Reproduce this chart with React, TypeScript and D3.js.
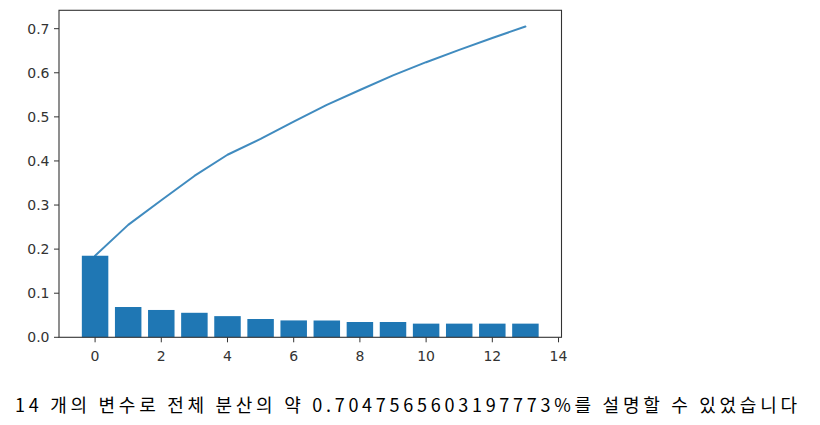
import React from "react";
import * as d3 from "d3";

const components = [0, 1, 2, 3, 4, 5, 6, 7, 8, 9, 10, 11, 12, 13];
const explainedRatio = [0.185, 0.0687, 0.062, 0.0556, 0.048, 0.0415, 0.0383, 0.0381, 0.0347, 0.0347, 0.031, 0.031, 0.031, 0.031];
const cumulativeRatio = [0.185, 0.255, 0.311, 0.366, 0.414, 0.45, 0.489, 0.527, 0.561, 0.594, 0.624, 0.652, 0.679, 0.7048];
const xTicks = [0, 2, 4, 6, 8, 10, 12, 14];
const yTicks = [0.0, 0.1, 0.2, 0.3, 0.4, 0.5, 0.6, 0.7];
const caption = "14 개의 변수로 전체 분산의 약 0.7047565603197773%를 설명할 수 있었습니다";

export default function App() {
  const W = 820, H = 425;
  const left = 59, right = 561.5, top = 10.3, bottom = 337.3;
  const x = d3.scaleLinear().domain([-1.09, 14.09]).range([left, right]);
  const y = d3.scaleLinear().domain([0, 0.7417]).range([bottom, top]);
  const barW = x(0.8) - x(0);
  const line = d3
    .line<number>()
    .x((_, i) => x(components[i]))
    .y((d) => y(d));
  const tickColor = "#333";
  const font = "DejaVu Sans, sans-serif";
  return (
    <svg
      width={W}
      height={H}
      style={{ position: "absolute", left: 0, top: 0, background: "#fff" }}
    >
      <rect x={0} y={0} width={W} height={H} fill="#fff" />
      {explainedRatio.map((v, i) => (
        <rect
          key={i}
          x={x(components[i] - 0.4)}
          y={y(v)}
          width={barW}
          height={y(0) - y(v)}
          fill="#1f77b4"
        />
      ))}
      <path
        d={line(cumulativeRatio) || ""}
        fill="none"
        stroke="#1f77b4"
        strokeOpacity={0.85}
        strokeWidth={2}
        strokeLinejoin="round"
        strokeLinecap="round"
      />
      <rect
        x={left}
        y={top}
        width={right - left}
        height={bottom - top}
        fill="none"
        stroke="#333"
        strokeWidth={1.1}
      />
      {xTicks.map((t) => (
        <g key={"x" + t}>
          <line x1={x(t)} x2={x(t)} y1={bottom} y2={bottom + 5} stroke={tickColor} strokeWidth={1} />
          <text
            x={x(t)}
            y={bottom + 24}
            textAnchor="middle"
            fontFamily={font}
            fontSize={14}
            fill="#333"
          >
            {t}
          </text>
        </g>
      ))}
      {yTicks.map((t) => (
        <g key={"y" + t}>
          <line x1={left - 5} x2={left} y1={y(t)} y2={y(t)} stroke={tickColor} strokeWidth={1} />
          <text
            x={left - 9.5}
            y={y(t)}
            dy="0.36em"
            textAnchor="end"
            fontFamily={font}
            fontSize={14}
            fill="#333"
          >
            {t.toFixed(1)}
          </text>
        </g>
      ))}
      <text
        x={15}
        y={411.5}
        fontFamily="Noto Sans CJK KR, sans-serif"
        fontSize={18}
        fill="#000"
        textLength={782}
        lengthAdjust="spacing"
      >
        {caption}
      </text>
    </svg>
  );
}
